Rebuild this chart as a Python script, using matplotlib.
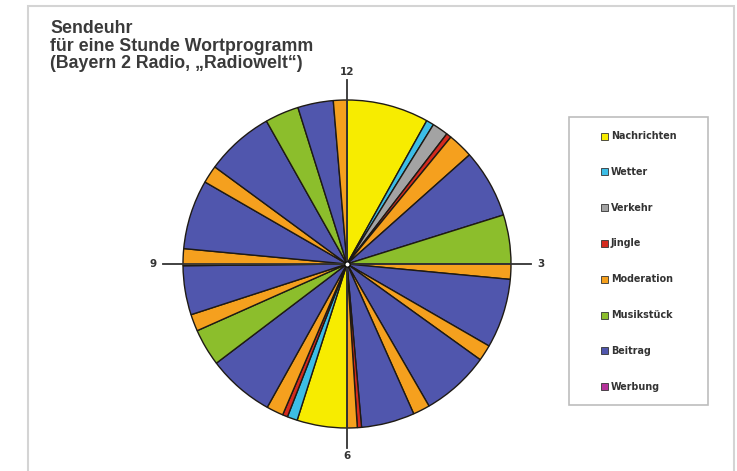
import matplotlib.pyplot as plt
from matplotlib.patches import Rectangle

# categories and colours
categories = ["Nachrichten", "Wetter", "Verkehr", "Jingle", "Moderation",
              "Musikstück", "Beitrag", "Werbung"]
colors = {"Nachrichten": "#f7ec00", "Wetter": "#3cbde6", "Verkehr": "#a3a3a3",
          "Jingle": "#d42a1e", "Moderation": "#f5a01e", "Musikstück": "#8cbe2c",
          "Beitrag": "#5056ad", "Werbung": "#b4329a"}

# segments of the hour, clockwise from 12 (minutes)
seg_types = ["Nachrichten", "Wetter", "Verkehr", "Jingle", "Moderation", "Beitrag",
             "Musikstück", "Moderation", "Beitrag", "Moderation", "Beitrag",
             "Moderation", "Beitrag", "Jingle", "Moderation",
             "Nachrichten", "Wetter", "Jingle", "Moderation", "Beitrag",
             "Musikstück", "Moderation", "Beitrag", "Moderation", "Beitrag",
             "Moderation", "Beitrag", "Musikstück", "Beitrag", "Moderation"]
seg_minutes = [4.85, 0.45, 0.95, 0.3, 1.5, 4.05,
               2.9, 0.9, 4.1, 0.95, 4.05,
               1.0, 3.15, 0.25, 0.6,
               2.95, 0.6, 0.3, 1.0, 3.95,
               2.2, 1.0, 2.9, 1.0, 4.1,
               1.05, 4.05, 2.0, 2.1, 0.8]

clock_labels = ["12", "3", "6", "9"]

title = "Sendeuhr\nfür eine Stunde Wortprogramm\n(Bayern 2 Radio, \u201eRadiowelt\u201c)"

W, H = 737, 471
fig = plt.figure(figsize=(W / 100, H / 100), dpi=100)
fig.patch.set_facecolor("white")

# light grey frame around the whole graphic
fig.add_artist(Rectangle((28 / W, -0.1), (734 - 28) / W, 1.1 - 6 / H,
                         transform=fig.transFigure, fill=False,
                         edgecolor="#d4d4d4", linewidth=1.5))

fig.text(50 / W, 1 - 20 / H, title, ha="left", va="top", fontsize=12.8,
         fontweight="bold", color="#3a3a3a", family="Liberation Sans",
         linespacing=1.05)

# pie axes: centre (347, 264), radius 164 px
cx, cy, r = 347, 264, 164
half = r * 1.25
ax = fig.add_axes([(cx - half) / W, (H - cy - half) / H, 2 * half / W, 2 * half / H])
ax.pie(seg_minutes, colors=[colors[t] for t in seg_types], startangle=90,
       counterclock=False,
       wedgeprops=dict(edgecolor="#1e1a14", linewidth=1.0))
ax.set_xlim(-1.25, 1.25)
ax.set_ylim(-1.25, 1.25)
ax.set_aspect("auto")
ax.axis("off")

# clock marks
marks = [(0, 1), (1, 0), (0, -1), (-1, 0)]
for lab, (dx, dy) in zip(clock_labels, marks):
    ax.plot([0, dx * 1.12], [0, dy * 1.12], color="#333333", linewidth=1.3, zorder=3)
    ax.text(dx * 1.18, dy * 1.17, lab, ha="center", va="center", fontsize=7.5,
            fontweight="bold", color="#333333", family="DejaVu Sans")
ax.scatter([0], [0], s=14, color="white", edgecolor="black", linewidth=0.8, zorder=4)

# legend box
lx0, ly0, lx1, ly1 = 569, 117, 708, 405
fig.add_artist(Rectangle((lx0 / W, 1 - ly1 / H), (lx1 - lx0) / W, (ly1 - ly0) / H,
                         transform=fig.transFigure, fill=False,
                         edgecolor="#bdbdbd", linewidth=1.2))
for i, cat in enumerate(categories):
    yc = 136 + i * 35.8
    fig.add_artist(Rectangle((601 / W, 1 - (yc + 3.5) / H), 7 / W, 7 / H,
                             transform=fig.transFigure, facecolor=colors[cat],
                             edgecolor="#333333", linewidth=0.6))
    fig.text(611 / W, 1 - yc / H, cat, ha="left", va="center", fontsize=6.9,
             fontweight="bold", color="#333333", family="DejaVu Sans")

fig.savefig("out.png", dpi=100)
